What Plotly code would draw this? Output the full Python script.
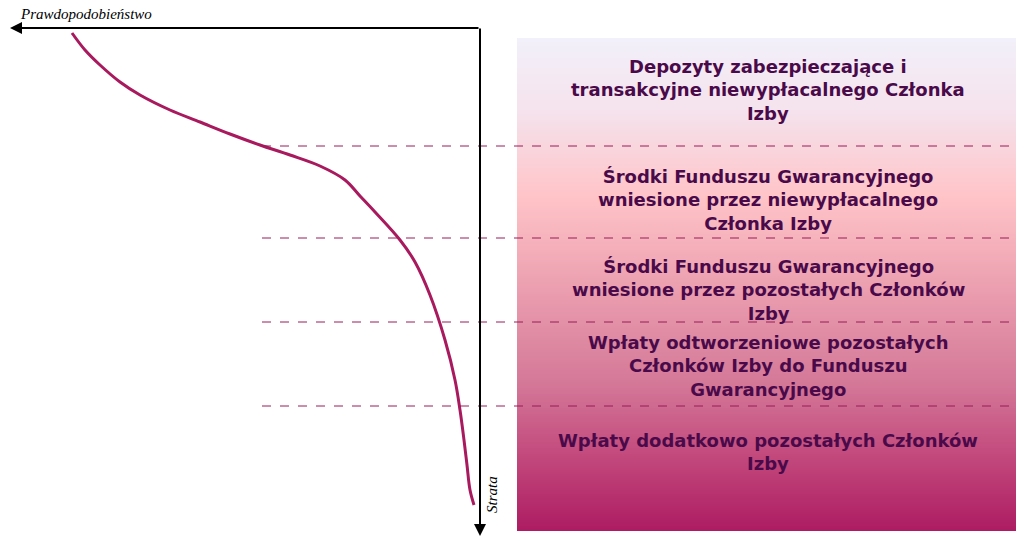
import plotly.graph_objects as go
import numpy as np

# Loss-probability curve (x = probability axis position, y = loss position)
curve_x = [72, 85, 100, 120, 140, 170, 200, 230, 260, 290, 320, 345, 360, 375, 400, 415, 430, 445, 455, 460, 464, 467, 470, 474]
curve_y = [33, 50, 65, 82, 95, 110, 122, 134, 145, 155, 166, 180, 196, 212, 240, 262, 295, 340, 380, 410, 440, 465, 490, 505]

layer_labels = [
    "Depozyty zabezpieczające i<br>transakcyjne niewypłacalnego Członka<br>Izby",
    "Środki Funduszu Gwarancyjnego<br>wniesione przez niewypłacalnego<br>Członka Izby",
    "Środki Funduszu Gwarancyjnego<br>wniesione przez pozostałych Członków<br>Izby",
    "Wpłaty odtworzeniowe pozostałych<br>Członków Izby do Funduszu<br>Gwarancyjnego",
    "Wpłaty dodatkowo pozostałych Członków<br>Izby",
]
layer_centers = [90, 200, 290, 366, 452]
boundaries = [146, 238, 322, 406]

fig = go.Figure()

# gradient box (edges given explicitly)
ys = np.arange(38, 531, 2)
fig.add_trace(go.Heatmap(
    x=[517, 1018], y=list(ys) + [531], z=[[v] for v in ys], showscale=False, hoverinfo="skip",
    zmin=38, zmax=530,
    colorscale=[[0, "#f2f0fa"], [0.15, "#f5e2ec"], [0.32, "#ffc4c8"], [0.5, "#eca0b0"],
                [0.7, "#d47898"], [0.85, "#c2487c"], [1, "#ad1c62"]]))

fig.add_trace(go.Scatter(x=curve_x, y=curve_y, mode="lines",
                         line=dict(color="#a8195e", width=3, shape="spline"), hoverinfo="skip"))

for b in boundaries:
    fig.add_shape(type="line", x0=262, x1=1018, y0=b, y1=b,
                  line=dict(color="#9a1a5a", width=1, dash="dash"))

# axes arrows
fig.add_annotation(x=10, y=28, ax=480, ay=28, xref="x", yref="y", axref="x", ayref="y",
                   showarrow=True, arrowhead=2, arrowsize=1.2, arrowwidth=2, arrowcolor="black", text="")
fig.add_annotation(x=480, y=536, ax=480, ay=27, xref="x", yref="y", axref="x", ayref="y",
                   showarrow=True, arrowhead=2, arrowsize=1.2, arrowwidth=2, arrowcolor="black", text="")
fig.add_annotation(x=18, y=14, text="<i>Prawdopodobieństwo</i>", showarrow=False, xanchor="left",
                   font=dict(family="Liberation Serif", size=15, color="black"))
fig.add_annotation(x=492, y=495, text="<i>Strata</i>", showarrow=False, textangle=-90,
                   font=dict(family="Liberation Serif", size=15, color="black"))

for t, c in zip(layer_labels, layer_centers):
    fig.add_annotation(x=768, y=c, text="<b>" + t + "</b>", showarrow=False,
                       font=dict(family="DejaVu Sans", size=18, color="#4a0a4a"))

fig.update_xaxes(range=[8, 1024], visible=False)
fig.update_yaxes(range=[541, 8], visible=False)
fig.update_layout(width=1016, height=533, margin=dict(l=0, r=0, t=0, b=0),
                  plot_bgcolor="white", paper_bgcolor="white", showlegend=False)
fig.write_html("out.html")
